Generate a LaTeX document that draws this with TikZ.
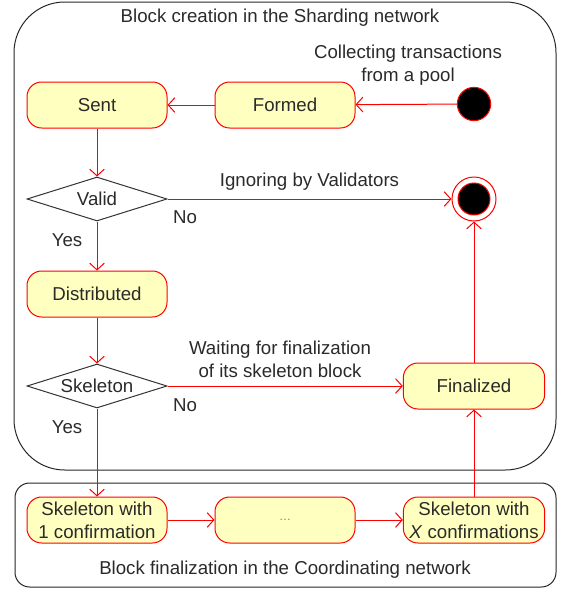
\documentclass[tikz,border=0pt]{standalone}
\usepackage{fontspec}
\setmainfont{Liberation Sans}
\usetikzlibrary{arrows.meta,shapes.geometric}
\definecolor{statefill}{HTML}{FFFFC0}
\definecolor{txtgray}{HTML}{2A2A2A}

\begin{document}
\begin{tikzpicture}[x=0.75pt,y=-0.75pt, line width=0.75pt,
	every node/.style={font=\fontsize{14}{17}\selectfont, text=txtgray},
	state/.style={draw=red, fill=statefill, rounded corners=11pt, minimum width=105pt, minimum height=34.5pt, align=center, inner sep=1pt},
	choice/.style={diamond, draw=black!80, fill=white, aspect=3, minimum width=105pt, minimum height=33pt, inner sep=0pt},
	flow/.style={draw=red, -{Straight Barb[length=5pt,width=11pt]}}]
	\useasboundingbox (0,0) rectangle (569,589);
	% the two networks
	\draw[black!85, rounded corners=38pt] (14,2) rectangle (556,470);
	\node (top) at (280,18) {Block creation in the Sharding network};
	\draw[black!85, rounded corners=11pt] (15,483) rectangle (556,587);
	\node (bottom) at (285,570) {Block finalization in the Coordinating network};
	% states
	\node[circle, draw=red, fill=black, minimum size=25pt, inner sep=0pt] (start) at (474,104) {};
	\node[align=center] (pool) at (408,65) {Collecting transactions\\from a pool};
	\node[state] (formed) at (285,105) {Formed};
	\node[state] (sent) at (97,105) {Sent};
	\node[choice] (valid) at (97,199) {Valid};
	\node[circle, draw=red, minimum size=33pt, inner sep=0pt] (end) at (474,199) {};
	\fill[black] (end) circle (12pt); \draw[red] (end) circle (12pt);
	\node[state] (distr) at (97,294) {Distributed};
	\node[choice] (skel) at (97,386) {Skeleton};
	\node[state, minimum width=106pt] (final) at (474,386) {Finalized};
	\node[state] (conf1) at (97,520) {Skeleton with\\1 confirmation};
	\node[state, font=\fontsize{9}{11}\selectfont, text=black!50] (dots) at (285,520) {\dots};
	\node[state, minimum width=106pt] (confx) at (474,520) {Skeleton with\\\textit{X} confirmations};
	% transitions
	\draw[flow] (start) -- (formed);
	\draw[flow] (formed) -- (sent);
	\draw[flow] (sent) -- (valid);
	\draw[flow] (valid) -- node[above=3pt] {Ignoring by Validators} (end);
	\node (no1) at (185,217) {No};
	\draw[flow] (valid) -- (distr);
	\node (yes1) at (67,240) {Yes};
	\draw[flow] (distr) -- (skel);
	\draw[flow] (skel) -- (final);
	\node[align=center] (wait) at (280,359) {Waiting for finalization\\of its skeleton block};
	\node (no2) at (185,405) {No};
	\draw[flow] (skel) -- (conf1);
	\node (yes2) at (67,427) {Yes};
	\draw[flow] (conf1) -- (dots);
	\draw[flow] (dots) -- (confx);
	\draw[flow] (confx) -- (final);
	\draw[flow] (final) -- (end);
\end{tikzpicture}
\end{document}
